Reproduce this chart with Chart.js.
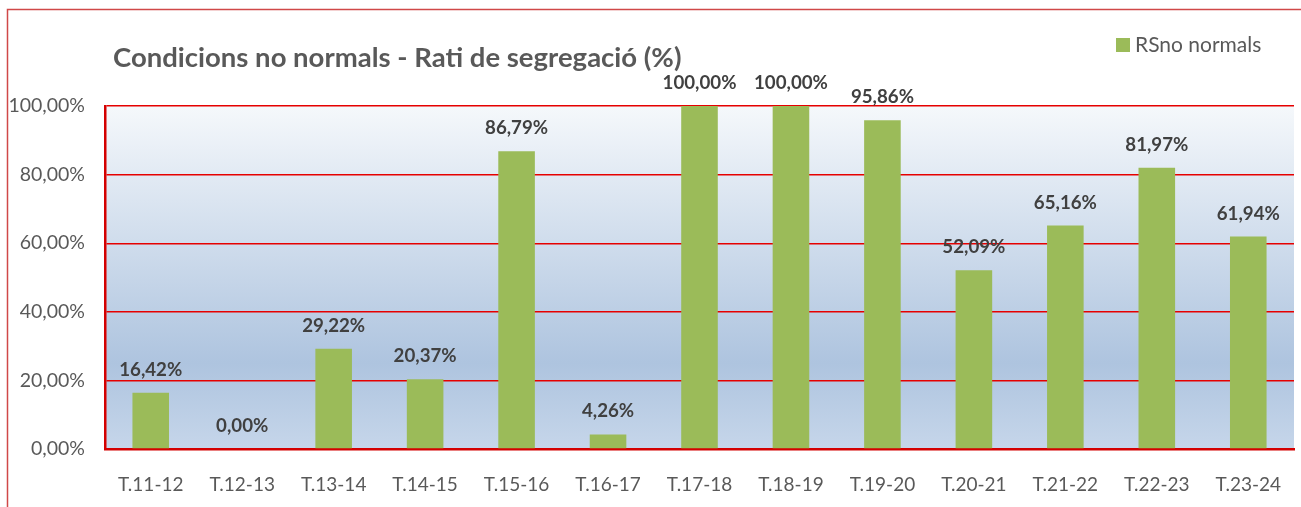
<!DOCTYPE html>
<html>
<head>
<meta charset="utf-8">
<script src="https://cdn.jsdelivr.net/npm/chart.js@4.4.1/dist/chart.umd.min.js"></script>
<style>
  html, body { margin: 0; padding: 0; background: #fff; }
  #wrap { width: 1301px; height: 507px; }
</style>
</head>
<body>
<div id="wrap"><canvas id="chart" width="1301" height="507"></canvas></div>
<script>
const seasons = ['T.11-12', 'T.12-13', 'T.13-14', 'T.14-15', 'T.15-16', 'T.16-17', 'T.17-18',
  'T.18-19', 'T.19-20', 'T.20-21', 'T.21-22', 'T.22-23', 'T.23-24'];
const ratiSegregacio = [16.42, 0.00, 29.22, 20.37, 86.79, 4.26, 100.00, 100.00, 95.86, 52.09, 65.16, 81.97, 61.94];
const yTicks = [0, 20, 40, 60, 80, 100];

const chartTitle = 'Condicions no normals - Rati de segregació (%)';
const seriesName = 'RSno normals';

const RED = '#d40000';
const GRID_RED = '#e60000';
const GREEN = '#9bbb59';
const GREY = '#595959';
const FONT = 'Lato';

const pct = v => v.toFixed(2).replace('.', ',') + '%';

// white page, thin red frame and gradient plot background
const backdrop = {
  id: 'backdrop',
  beforeDraw(chart) {
    const { ctx, chartArea: a, width, height } = chart;
    ctx.save();
    ctx.fillStyle = '#fff';
    ctx.fillRect(0, 0, width, height);
    ctx.strokeStyle = '#d04848';
    ctx.lineWidth = 1.5;
    ctx.beginPath();
    ctx.moveTo(7.5, height);
    ctx.lineTo(7.5, 9.5);
    ctx.lineTo(width, 9.5);
    ctx.stroke();
    const g = ctx.createLinearGradient(0, a.top, 0, a.bottom);
    g.addColorStop(0, '#f5f8fb');
    g.addColorStop(0.75, '#aec4df');
    g.addColorStop(1, '#c6d6ea');
    ctx.fillStyle = g;
    ctx.fillRect(a.left, a.top, a.right - a.left, a.bottom - a.top);
    ctx.restore();
  }
};

// title + legend swatch drawn at the top
const header = {
  id: 'header',
  afterDraw(chart) {
    const { ctx } = chart;
    ctx.save();
    ctx.fillStyle = GREY;
    ctx.textBaseline = 'alphabetic';
    ctx.textAlign = 'left';
    ctx.font = 'bold 27.5px ' + FONT;
    ctx.fillText(chartTitle, 113, 67);
    ctx.fillStyle = GREEN;
    ctx.fillRect(1116, 38, 14, 14);
    ctx.fillStyle = GREY;
    ctx.font = '21px ' + FONT;
    ctx.textBaseline = 'middle';
    ctx.fillText(seriesName, 1135, 45);
    ctx.restore();
  }
};

// value labels above each bar
const valueLabels = {
  id: 'valueLabels',
  afterDatasetsDraw(chart) {
    const { ctx } = chart;
    const meta = chart.getDatasetMeta(0);
    ctx.save();
    ctx.fillStyle = '#404040';
    ctx.font = 'bold 18.7px ' + FONT;
    ctx.textAlign = 'center';
    ctx.textBaseline = 'middle';
    meta.data.forEach((bar, i) => {
      ctx.fillText(pct(chart.data.datasets[0].data[i]), bar.x, bar.y - 23);
    });
    ctx.restore();
  }
};

new Chart(document.getElementById('chart'), {
  type: 'bar',
  data: {
    labels: seasons,
    datasets: [{
      label: seriesName,
      data: ratiSegregacio,
      backgroundColor: GREEN,
      borderWidth: 0,
      categoryPercentage: 1,
      barPercentage: 0.4
    }]
  },
  options: {
    responsive: false,
    animation: false,
    layout: { padding: { top: 106, left: 0, right: 7, bottom: 0 } },
    plugins: {
      legend: { display: false },
      title: { display: false },
      tooltip: { enabled: false }
    },
    scales: {
      x: {
        afterFit(s) { s.height = 58; },
        grid: { display: false },
        border: { display: true, color: RED, width: 2.5 },
        ticks: { color: GREY, font: { family: FONT, size: 19 }, padding: 16, maxRotation: 0 }
      },
      y: {
        min: 0,
        max: 100,
        afterFit(s) { s.width = 105; },
        afterBuildTicks(s) { s.ticks = yTicks.map(v => ({ value: v })); },
        grid: { color: GRID_RED, lineWidth: 1.4, drawTicks: false },
        border: { display: true, color: RED, width: 2.5 },
        ticks: { color: GREY, font: { family: FONT, size: 19.5 }, padding: 20, callback: v => pct(v) }
      }
    }
  },
  plugins: [backdrop, header, valueLabels]
});
</script>
</body>
</html>
